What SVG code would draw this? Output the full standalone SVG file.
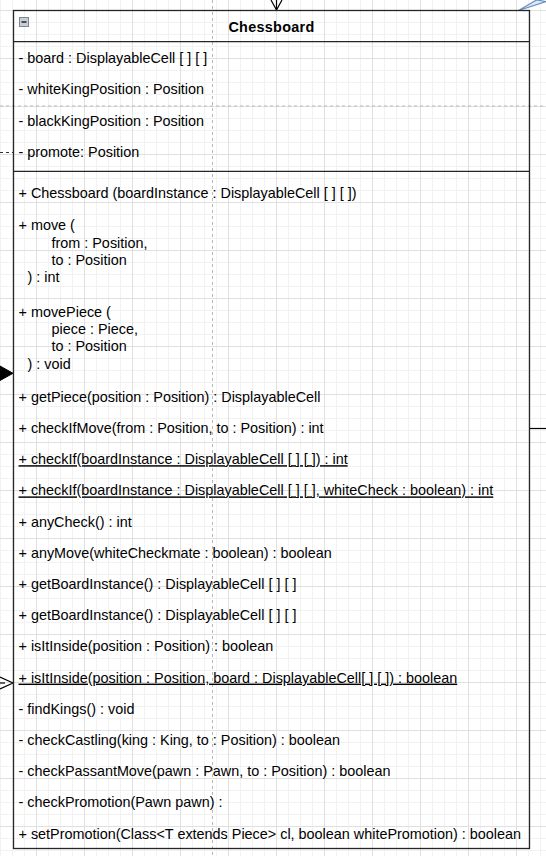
<svg xmlns="http://www.w3.org/2000/svg" width="546" height="856" viewBox="0 0 546 856">
  <style>
    .t { font-family: "Liberation Sans", Arial, sans-serif; font-size: 14.4px; fill: #000; }
    .title { font-family: "Liberation Sans", Arial, sans-serif; font-size: 14.4px; font-weight: bold; fill: #000; }
    .u { text-decoration: underline; }
    .border { fill: none; stroke: #262626; stroke-width: 1.3; }
    .guide { fill: none; stroke: #b8b8b8; stroke-width: 1; stroke-dasharray: 3 3; }
    .edge { fill: none; stroke: #000; stroke-width: 1.2; }
  </style>
  <defs>
    <pattern id="grid" patternUnits="userSpaceOnUse" x="36" y="10" width="48" height="48">
      <path d="M12.5 0V48M24.5 0V48M36.5 0V48M0 12.5H48M0 24.5H48M0 36.5H48" stroke="#f2f2f2" stroke-width="1" fill="none"/>
      <path d="M0.5 0V48M0 0.5H48" stroke="#e0e0e0" stroke-width="1" fill="none"/>
    </pattern>
  </defs>
  <rect x="0" y="0" width="546" height="856" fill="#ffffff"/>
  <rect x="0" y="0" width="546" height="856" fill="url(#grid)"/>

  <g id="connectors">
    <line class="guide" x1="212.5" y1="0" x2="212.5" y2="856"/>
    <line class="guide" x1="0" y1="106" x2="546" y2="106"/>
    <line x1="0" y1="152.5" x2="13" y2="152.5" stroke="#333" stroke-width="1.2" stroke-dasharray="3 3"/>
    <line class="edge" x1="276.5" y1="0" x2="276.5" y2="10"/>
    <polyline class="edge" points="271,0 276.5,10 282,0"/>
    <polygon points="536.5,0 518.5,10.5 546,1.5" fill="#dae8fc" stroke="#6c8ebf" stroke-width="1.2"/>
    <polygon points="0,366 13,373.3 0,380.5" fill="#000" stroke="#000" stroke-width="1"/>
    <line class="edge" x1="0" y1="683" x2="5" y2="683"/>
    <polyline class="edge" points="0,677 13,683 0,689"/>
    <line class="edge" x1="529.5" y1="428.5" x2="546" y2="428.5"/>
  </g>

  <g id="chessboard">
    <rect class="border" x="13.5" y="10.5" width="516" height="838"/>
    <line class="border" x1="13.5" y1="41.7" x2="529.5" y2="41.7"/>
    <line class="border" x1="13.5" y1="171.3" x2="529.5" y2="171.3"/>
    <rect x="19.5" y="17.5" width="9" height="9" fill="#c9ced6" stroke="#7d8591" stroke-width="1"/>
    <line x1="21.5" y1="22" x2="26.5" y2="22" stroke="#222" stroke-width="1.5"/>
    <text class="title" x="271.5" y="31.6" text-anchor="middle" letter-spacing="0.3">Chessboard</text>

    <g transform="translate(0,0.9)">
    <text class="t" x="18.5" y="62.3">- board : DisplayableCell [ ] [ ]</text>
    <text class="t" x="18.5" y="93.5">- whiteKingPosition : Position</text>
    <text class="t" x="18.5" y="124.7">- blackKingPosition : Position</text>
    <text class="t" x="18.5" y="155.9">- promote: Position</text>

    <text class="t" x="18.5" y="197.5">+ Chessboard (boardInstance : DisplayableCell [ ] [ ])</text>
    <text class="t" x="18.5" y="229.6">+ move (</text>
    <text class="t" x="51.5" y="246.9">from : Position,</text>
    <text class="t" x="51.5" y="264.2">to : Position</text>
    <text class="t" x="27.5" y="281.4">) : int</text>
    <text class="t" x="18.5" y="316.1">+ movePiece (</text>
    <text class="t" x="51.5" y="333.4">piece : Piece,</text>
    <text class="t" x="51.5" y="350.6">to : Position</text>
    <text class="t" x="27.5" y="367.9">) : void</text>
    <text class="t" x="18.5" y="400.9">+ getPiece(position : Position) : DisplayableCell</text>
    <text class="t" x="18.5" y="432.1">+ checkIfMove(from : Position, to : Position) : int</text>
    <text class="t u" x="18.5" y="463.3">+ checkIf(boardInstance : DisplayableCell [ ] [ ]) : int</text>
    <text class="t u" x="18.5" y="494.5">+ checkIf(boardInstance : DisplayableCell [ ] [ ], whiteCheck : boolean) : int</text>
    <text class="t" x="18.5" y="525.7">+ anyCheck() : int</text>
    <text class="t" x="18.5" y="556.9">+ anyMove(whiteCheckmate : boolean) : boolean</text>
    <text class="t" x="18.5" y="588.1">+ getBoardInstance() : DisplayableCell [ ] [ ]</text>
    <text class="t" x="18.5" y="619.3">+ getBoardInstance() : DisplayableCell [ ] [ ]</text>
    <text class="t" x="18.5" y="650.5">+ isItInside(position : Position) : boolean</text>
    <text class="t u" x="18.5" y="681.7">+ isItInside(position : Position, board : DisplayableCell[ ] [ ]) : boolean</text>
    <text class="t" x="18.5" y="712.9">- findKings() : void</text>
    <text class="t" x="18.5" y="744.1">- checkCastling(king : King, to : Position) : boolean</text>
    <text class="t" x="18.5" y="775.3">- checkPassantMove(pawn : Pawn, to : Position) : boolean</text>
    <text class="t" x="18.5" y="806.5">- checkPromotion(Pawn pawn) :</text>
    <text class="t" x="18.5" y="837.7">+ setPromotion(Class&lt;T extends Piece&gt; cl, boolean whitePromotion) : boolean</text>
    </g>
  </g>
</svg>
